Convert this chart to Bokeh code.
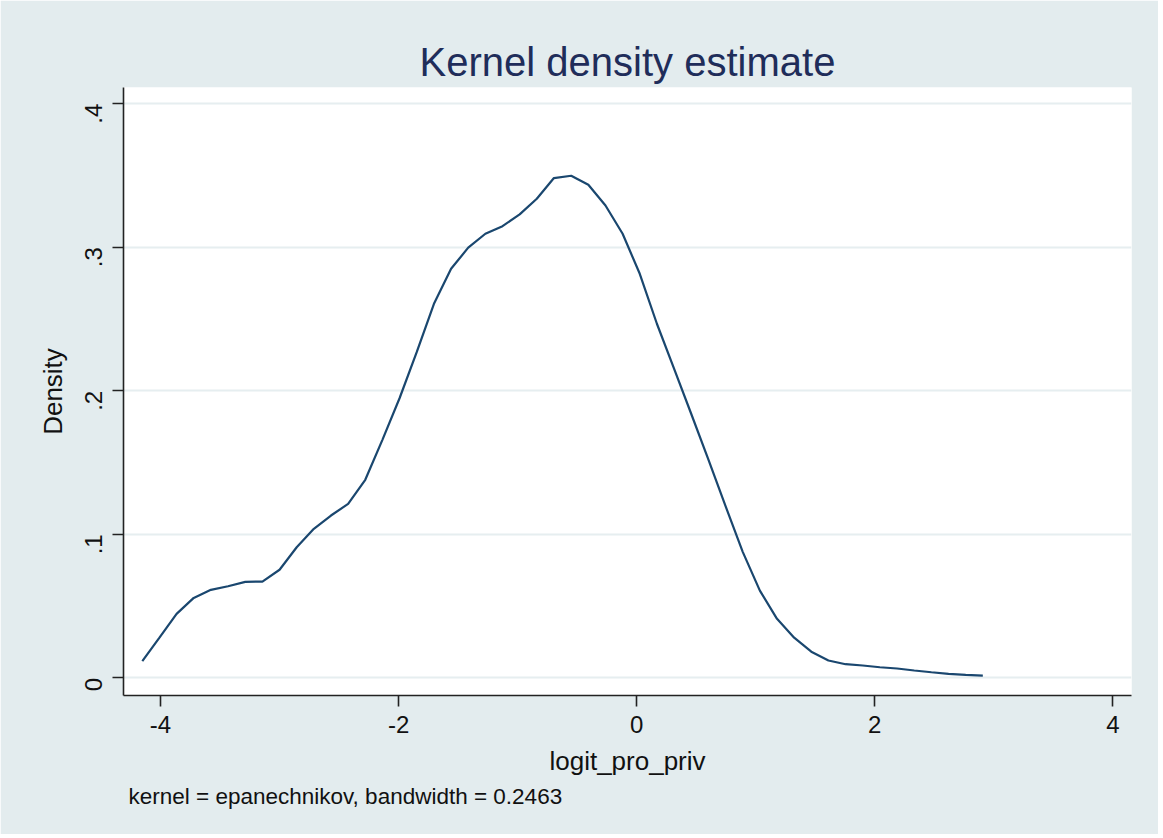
import math
from bokeh.plotting import figure
from bokeh.models import FixedTicker, Range1d, Title
from bokeh.embed import file_html
from bokeh.resources import INLINE

# ---- data ----
logit_pro_priv = [
    -4.153, -4.009, -3.865, -3.721, -3.577, -3.433, -3.288, -3.144, -3.000, -2.856,
    -2.712, -2.568, -2.424, -2.280, -2.136, -1.992, -1.847, -1.703, -1.559, -1.415,
    -1.271, -1.127, -0.983, -0.839, -0.695, -0.550, -0.406, -0.262, -0.118, 0.026,
    0.170, 0.314, 0.458, 0.602, 0.746, 0.891, 1.035, 1.179, 1.323, 1.467,
    1.611, 1.755, 1.899, 2.043, 2.188, 2.332, 2.476, 2.620, 2.764, 2.908,
]
density = [
    0.0116, 0.0280, 0.0446, 0.0557, 0.0613, 0.0638, 0.0669, 0.0671, 0.0753, 0.0910,
    0.1038, 0.1131, 0.1212, 0.1380, 0.1658, 0.1948, 0.2271, 0.2606, 0.2850, 0.2997,
    0.3094, 0.3147, 0.3229, 0.3338, 0.3482, 0.3498, 0.3435, 0.3291, 0.3094, 0.2815,
    0.2467, 0.2154, 0.1840, 0.1522, 0.1198, 0.0878, 0.0608, 0.0411, 0.0280, 0.0182,
    0.0121, 0.0095, 0.0086, 0.0074, 0.0065, 0.0051, 0.0039, 0.0028, 0.0021, 0.0016,
]
x_ticks = [-4, -2, 0, 2, 4]
x_tick_labels = ["-4", "-2", "0", "2", "4"]
y_ticks = [0, 0.1, 0.2, 0.3, 0.4]
y_tick_labels = ["0", ".1", ".2", ".3", ".4"]

title_text = "Kernel density estimate"
x_title = "logit_pro_priv"
y_title = "Density"
note_text = "kernel = epanechnikov, bandwidth = 0.2463"

FONT = "Liberation Sans"
BG = "#e3ecee"

p = figure(
    width=1158, height=834,
    output_backend="svg", toolbar_location=None,
    x_range=Range1d(-4.311, 4.157), y_range=Range1d(-0.0123, 0.4113),
    min_border_left=123, min_border_right=27, min_border_top=87, min_border_bottom=139,
)
p.background_fill_color = "white"
p.border_fill_color = BG
p.outline_line_color = None

# title
p.title.text = title_text
p.title.align = "center"
p.title.text_font = FONT
p.title.text_font_size = "40px"
p.title.text_font_style = "normal"
p.title.text_color = "#1f2d5a"
p.title.standoff = 7

# note
p.add_layout(Title(text=note_text, align="left", text_font=FONT, text_font_size="22.5px",
                   text_font_style="normal", text_color="#111111", offset=5, standoff=7), "below")

# line
p.line(logit_pro_priv, density, line_color="#1a476f", line_width=2.2)

# axes
for ax in (p.xaxis[0], p.yaxis[0]):
    ax.axis_line_color = "#222222"
    ax.axis_line_width = 1.6
    ax.major_tick_line_color = "#222222"
    ax.major_tick_line_width = 1.6
    ax.major_tick_in = 0
    ax.major_tick_out = 11
    ax.minor_tick_line_color = None
    ax.major_label_text_font = FONT
    ax.major_label_text_font_size = "24px"
    ax.major_label_text_color = "#111111"
    ax.axis_label_text_font = FONT
    ax.axis_label_text_font_size = "26px"
    ax.axis_label_text_font_style = "normal"
    ax.axis_label_text_color = "#111111"

p.xaxis.ticker = FixedTicker(ticks=x_ticks)
p.xaxis.major_label_overrides = dict(zip(x_ticks, x_tick_labels))
p.xaxis.axis_label = x_title
p.xaxis.major_label_standoff = 9
p.xaxis.axis_label_standoff = 10

p.yaxis.ticker = FixedTicker(ticks=y_ticks)
p.yaxis.major_label_overrides = dict(zip(y_ticks, y_tick_labels))
p.yaxis.major_label_orientation = math.pi / 2
p.yaxis.axis_label = y_title
p.yaxis.major_label_standoff = 19
p.yaxis.axis_label_standoff = 6

# grid
p.xgrid.grid_line_color = None
p.ygrid.grid_line_color = "#e6eef0"
p.ygrid.grid_line_width = 2

open("out.html", "w").write(file_html(p, INLINE))
